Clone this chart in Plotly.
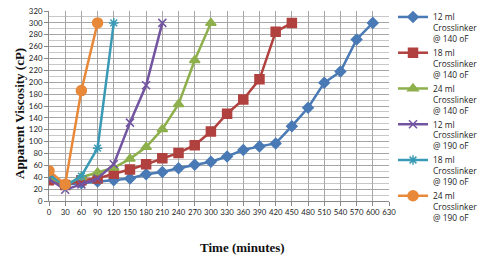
import plotly.graph_objects as go

# Time (minutes) for each series
t_12_140 = [0, 30, 60, 90, 120, 150, 180, 210, 240, 270, 300, 330, 360, 390, 420, 450, 480, 510, 540, 570, 600]
v_12_140 = [38, 28, 30, 33, 35, 38, 45, 49, 55, 61, 66, 75, 86, 92, 97, 126, 157, 199, 218, 272, 300]

t_18_140 = [0, 30, 60, 90, 120, 150, 180, 210, 240, 270, 300, 330, 360, 390, 420, 450]
v_18_140 = [35, 27, 35, 38, 46, 53, 62, 72, 81, 94, 117, 147, 171, 205, 285, 300]

t_24_140 = [0, 30, 60, 90, 120, 150, 180, 210, 240, 270, 300]
v_24_140 = [40, 27, 40, 48, 56, 71, 91, 121, 163, 237, 300]

t_12_190 = [0, 30, 60, 90, 120, 150, 180, 210]
v_12_190 = [37, 19, 28, 38, 62, 132, 195, 300]

t_18_190 = [0, 30, 60, 90, 120]
v_18_190 = [45, 25, 42, 89, 300]

t_24_190 = [0, 30, 60, 90]
v_24_190 = [51, 28, 186, 300]

names = ["12 ml<br>Crosslinker<br>@ 140 oF", "18 ml<br>Crosslinker<br>@ 140 oF",
         "24 ml<br>Crosslinker<br>@ 140 oF", "12 ml<br>Crosslinker<br>@ 190 oF",
         "18 ml<br>Crosslinker<br>@ 190 oF", "24 ml<br>Crosslinker<br>@ 190 oF"]

x_ticks = list(range(0, 631, 30))
y_ticks = list(range(0, 321, 20))

series = [
    (t_12_140, v_12_140, "#4A7AB5", dict(symbol="diamond", size=8)),
    (t_18_140, v_18_140, "#B0413E", dict(symbol="square", size=9)),
    (t_24_140, v_24_140, "#8DB04C", dict(symbol="triangle-up", size=9)),
    (t_12_190, v_12_190, "#7254A0", dict(symbol="x-thin-open", size=8)),
    (t_18_190, v_18_190, "#3A9AB6", dict(symbol="asterisk-open", size=8)),
    (t_24_190, v_24_190, "#E8893A", dict(symbol="circle", size=10)),
]

fig = go.Figure()
for (xs, ys, col, mk), nm in zip(series, names):
    m = dict(color=col, line=dict(color=col, width=1.5), **mk)
    fig.add_trace(go.Scatter(x=xs, y=ys, mode="lines+markers", name=nm,
                             line=dict(color=col, width=2.5), marker=m))

axis_font = dict(family="Lato, Open Sans, sans-serif", size=7.8, color="#222")
fig.update_layout(
    width=495, height=261,
    margin=dict(l=49, r=106, t=11, b=60, autoexpand=False),
    paper_bgcolor="white", plot_bgcolor="white",
    showlegend=True,
    legend=dict(x=1.0 + 4 / 340, xanchor="left", y=1.0 + 6 / 190, yanchor="top",
                font=dict(family="Open Sans, sans-serif", size=8.4, color="#222"),
                valign="top", itemwidth=30, tracegroupgap=0, maxheight=1.0,
                bgcolor="rgba(0,0,0,0)"),
    xaxis=dict(range=[0, 630], tickvals=x_ticks, ticktext=[str(v) for v in x_ticks],
               tickangle=0, ticklabeloverflow="allow",
               showgrid=True, gridcolor="#A6A6A6", gridwidth=1,
               showline=True, linecolor="#888", linewidth=1,
               ticks="outside", ticklen=4, tickcolor="#888",
               tickfont=axis_font, zeroline=False),
    yaxis=dict(range=[0, 320], tickvals=y_ticks, ticktext=[str(v) for v in y_ticks],
               ticklabeloverflow="allow",
               showgrid=True, gridcolor="#A6A6A6", gridwidth=1,
               minor=dict(dtick=10, showgrid=True, gridcolor="#C8C8C8", gridwidth=1),
               showline=True, linecolor="#888", linewidth=1,
               ticks="outside", ticklen=4, tickcolor="#888",
               tickfont=axis_font, zeroline=False),
    annotations=[
        dict(text="<b>Time (minutes)</b>", xref="paper", yref="paper",
             x=(242 - 49) / 340, y=-(247 - 201) / 190, xanchor="center", yanchor="middle",
             showarrow=False, font=dict(family="Liberation Serif, Times New Roman, serif", size=13, color="#111")),
        dict(text="<b>Apparent Viscosity (cP)</b>", xref="paper", yref="paper",
             x=-(49 - 19) / 340, y=(201 - 114) / 190, xanchor="center", yanchor="middle",
             textangle=-90, showarrow=False,
             font=dict(family="Liberation Serif, Times New Roman, serif", size=13, color="#111")),
    ],
)

# remove the page's default 8px body margin so the figure fills the window
fig.write_html("out.html", config={"displayModeBar": False},
               post_script="document.body.style.margin='0';")
